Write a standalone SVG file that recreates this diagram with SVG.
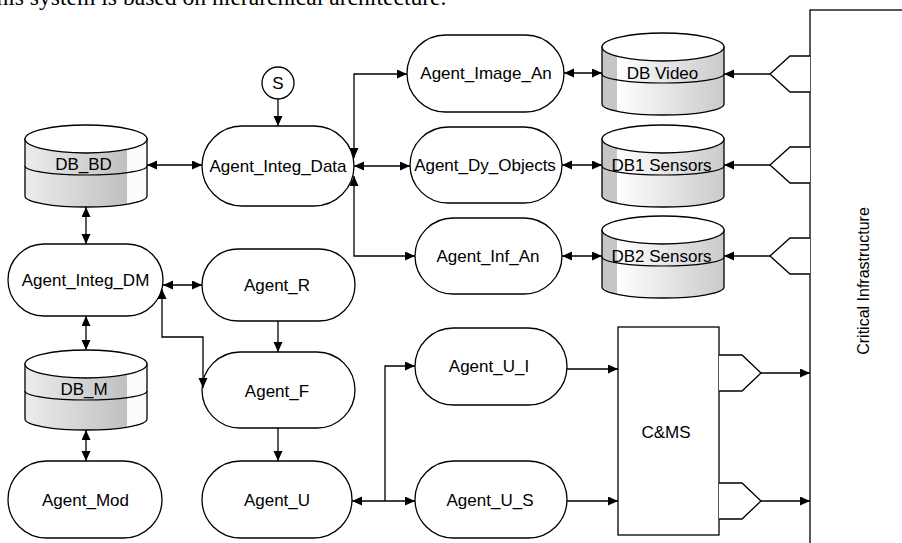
<svg xmlns="http://www.w3.org/2000/svg" width="902" height="543" viewBox="0 0 902 543">
<style>
.n{fill:#fff;stroke:#000;stroke-width:1.3}
.t{font-family:"Liberation Sans",Arial,sans-serif;font-size:17px;fill:#000;text-anchor:middle}
.c{fill:none;stroke:#000;stroke-width:1.3}
.cb{stroke:#000;stroke-width:1.3}
.cl{fill:none;stroke:#000;stroke-width:1.2}
</style>
<defs>
<marker id="a" markerUnits="userSpaceOnUse" markerWidth="11" markerHeight="10" refX="10" refY="4.5" orient="auto-start-reverse" viewBox="0 0 11 10">
<path d="M0,0 L10,4.5 L0,9 z" fill="#000"/>
</marker>
<linearGradient id="gA" x1="0" y1="0" x2="1" y2="0">
<stop offset="0" stop-color="#c6c6c6"/><stop offset="0.12" stop-color="#c6c6c6"/>
<stop offset="0.12" stop-color="#ffffff"/><stop offset="1" stop-color="#cacaca"/>
</linearGradient>
<linearGradient id="gB" x1="0" y1="0" x2="1" y2="0">
<stop offset="0" stop-color="#ececec"/><stop offset="0.84" stop-color="#c0c0c0"/>
<stop offset="0.84" stop-color="#fcfcfc"/><stop offset="1" stop-color="#fcfcfc"/>
</linearGradient>
</defs>

<text x="-18" y="5" font-family="'Liberation Serif','Times New Roman',serif" font-size="23.6" fill="#000">This system is based on hierarchical architecture.</text>

<g id="critical-infrastructure">
<rect x="810" y="10" width="100" height="545" class="n"/>
<text class="t" style="font-size:16px" transform="translate(869,281) rotate(-90)">Critical Infrastructure</text>
</g>

<g id="S"><circle cx="278" cy="83" r="16" class="n"/><text class="t" x="278" y="89">S</text></g>

<g id="Agent_Integ_Data"><rect x="202" y="126" width="152" height="80" rx="40" class="n"/><text class="t" x="278" y="172">Agent_Integ_Data</text></g>
<g id="Agent_Image_An"><rect x="407" y="35" width="157" height="77" rx="38.5" class="n"/><text class="t" x="486" y="79">Agent_Image_An</text></g>
<g id="Agent_Dy_Objects"><rect x="410" y="127" width="152" height="76" rx="38" class="n"/><text class="t" x="485" y="171">Agent_Dy_Objects</text></g>
<g id="Agent_Inf_An"><rect x="415" y="218" width="147" height="76" rx="38" class="n"/><text class="t" x="488" y="262">Agent_Inf_An</text></g>

<g id="DB_Video" transform="translate(602,33)">
<path d="M0,14 V71 A61,11 0 0 0 122,71 V14 Z" fill="url(#gA)" class="cb"/>
<path d="M0,41 A61,9 0 0 0 122,41" class="cl"/>
<ellipse cx="61" cy="14" rx="61" ry="14" class="n"/>
<text class="t" x="60.5" y="45.5">DB Video</text>
</g>
<g id="DB1_Sensors" transform="translate(602,125)">
<path d="M0,14 V71 A61,11 0 0 0 122,71 V14 Z" fill="url(#gA)" class="cb"/>
<path d="M0,41 A61,9 0 0 0 122,41" class="cl"/>
<ellipse cx="61" cy="14" rx="61" ry="14" class="n"/>
<text class="t" x="59.5" y="45.5">DB1 Sensors</text>
</g>
<g id="DB2_Sensors" transform="translate(602,216)">
<path d="M0,14 V71 A61,11 0 0 0 122,71 V14 Z" fill="url(#gA)" class="cb"/>
<path d="M0,41 A61,9 0 0 0 122,41" class="cl"/>
<ellipse cx="61" cy="14" rx="61" ry="14" class="n"/>
<text class="t" x="59.5" y="45.5">DB2 Sensors</text>
</g>

<g id="DB_BD" transform="translate(25,125)">
<path d="M0,14 V71 A61,11 0 0 0 122,71 V14 Z" fill="url(#gB)" class="cb"/>
<path d="M0,41 A61,9 0 0 0 122,41" class="cl"/>
<ellipse cx="61" cy="14" rx="61" ry="14" class="n"/>
<text class="t" x="58.5" y="45">DB_BD</text>
</g>
<g id="DB_M" transform="translate(25,350)">
<path d="M0,14 V69 A61,11 0 0 0 122,69 V14 Z" fill="url(#gB)" class="cb"/>
<path d="M0,41 A61,9 0 0 0 122,41" class="cl"/>
<ellipse cx="61" cy="14" rx="61" ry="14" class="n"/>
<text class="t" x="59" y="45">DB_M</text>
</g>

<g id="Agent_Integ_DM"><rect x="8" y="244" width="155" height="72" rx="36" class="n"/><text class="t" x="85.5" y="286">Agent_Integ_DM</text></g>
<g id="Agent_R"><rect x="202" y="249" width="153" height="72" rx="36" class="n"/><text class="t" x="277" y="291">Agent_R</text></g>
<g id="Agent_F"><rect x="202" y="352" width="153" height="76" rx="38" class="n"/><text class="t" x="277" y="397">Agent_F</text></g>
<g id="Agent_Mod"><rect x="8" y="461" width="154" height="77" rx="38.5" class="n"/><text class="t" x="85.5" y="506">Agent_Mod</text></g>
<g id="Agent_U"><rect x="202" y="461" width="150" height="77" rx="38.5" class="n"/><text class="t" x="277" y="506">Agent_U</text></g>
<g id="Agent_U_I"><rect x="415" y="328" width="152" height="77" rx="38.5" class="n"/><text class="t" x="489" y="372">Agent_U_I</text></g>
<g id="Agent_U_S"><rect x="415" y="461" width="152" height="77" rx="38.5" class="n"/><text class="t" x="490" y="506">Agent_U_S</text></g>

<g id="CMS"><rect x="618" y="327" width="101" height="208" class="n"/><text class="t" x="666" y="438">C&amp;MS</text></g>

<g id="ports">
<path d="M810,56 H790 L770,74 L790,92 H810" class="n"/>
<path d="M810,147 H790 L770,165 L790,183 H810" class="n"/>
<path d="M810,238 H790 L770,256 L790,274 H810" class="n"/>
<path d="M719,355 H742 L761,373 L742,391 H719" class="n"/>
<path d="M719,483 H742 L761,501 L742,519 H719" class="n"/>
</g>

<g id="connectors">
<path d="M278,99 V126" class="c" marker-end="url(#a)"/>
<path d="M147,165 H202" class="c" marker-start="url(#a)" marker-end="url(#a)"/>
<path d="M354,158 V74 H407" class="c" marker-start="url(#a)" marker-end="url(#a)"/>
<path d="M354,166 H410" class="c" marker-start="url(#a)" marker-end="url(#a)"/>
<path d="M354,176 V256 H415" class="c" marker-start="url(#a)" marker-end="url(#a)"/>
<path d="M564,73 H602" class="c" marker-start="url(#a)" marker-end="url(#a)"/>
<path d="M562,165 H602" class="c" marker-start="url(#a)" marker-end="url(#a)"/>
<path d="M562,256 H602" class="c" marker-start="url(#a)" marker-end="url(#a)"/>
<path d="M770,74 H724" class="c" marker-end="url(#a)"/>
<path d="M770,165 H724" class="c" marker-end="url(#a)"/>
<path d="M770,256 H724" class="c" marker-end="url(#a)"/>
<path d="M86,207 V244" class="c" marker-start="url(#a)" marker-end="url(#a)"/>
<path d="M163,285 H202" class="c" marker-start="url(#a)" marker-end="url(#a)"/>
<path d="M162,289 V337 H203 V388" class="c" marker-start="url(#a)" marker-end="url(#a)"/>
<path d="M86,316 V350" class="c" marker-start="url(#a)" marker-end="url(#a)"/>
<path d="M86,430 V461" class="c" marker-start="url(#a)" marker-end="url(#a)"/>
<path d="M278,321 V352" class="c" marker-end="url(#a)"/>
<path d="M278,428 V461" class="c" marker-end="url(#a)"/>
<path d="M352,501 H415" class="c" marker-start="url(#a)" marker-end="url(#a)"/>
<path d="M385,501 V366 H415" class="c" marker-end="url(#a)"/>
<path d="M567,369 H618" class="c" marker-end="url(#a)"/>
<path d="M567,501 H618" class="c" marker-end="url(#a)"/>
<path d="M761,373 H810" class="c" marker-end="url(#a)"/>
<path d="M761,501 H810" class="c" marker-end="url(#a)"/>
</g>
</svg>
